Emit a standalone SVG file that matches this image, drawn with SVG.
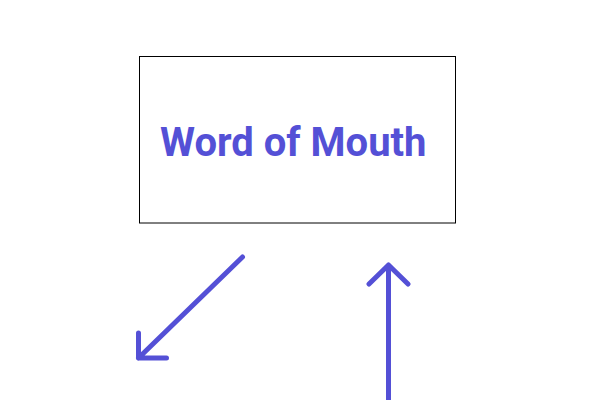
<svg xmlns="http://www.w3.org/2000/svg" width="596" height="400" viewBox="0 0 596 400">
<style>
.arrow{fill:none;stroke:#5450d6;stroke-width:5;stroke-linecap:round;stroke-linejoin:round}
.label{font-family:Roboto,"Liberation Sans",sans-serif;font-weight:bold;font-size:40px;fill:#5450d6}
</style>
<rect width="596" height="400" fill="#ffffff"/>
<g id="node-word-of-mouth">
<rect x="139.5" y="56.5" width="316" height="166.5" fill="#ffffff" stroke="#000000" stroke-width="1"/>
<text class="label" x="160" y="156">Word of Mouth</text>
</g>
<g id="connectors">
<path class="arrow" d="M242.5,257 L138.5,358 M138.5,333 L138.5,358 L166.5,358"/>
<path class="arrow" d="M388.5,400 L388.5,265 M369,284 L388.5,265 L408,284"/>
</g>
</svg>
